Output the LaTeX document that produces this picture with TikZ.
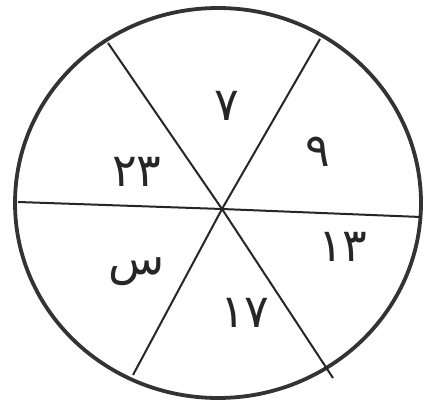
\documentclass[tikz,border=0pt]{standalone}
\usepackage{fontspec}
\newfontfamily\arabicfont[Script=Arabic]{DejaVu Sans}
\TeXXeTstate=1
\begin{document}
\begin{tikzpicture}[x=1pt,y=-1pt,
  rim/.style={line width=3.8pt,draw=black!80},
  spoke/.style={line width=2pt,draw=black!85},
  lbl/.style={font=\arabicfont\fontsize{46}{46}\selectfont,text=black!85,inner sep=0pt}]
\useasboundingbox (0,0) rectangle (426,404);
\fill[white] (0,0) rectangle (426,404);
\draw[rim] (218,203) ellipse [x radius=203, y radius=195];
\coordinate (c) at (222,209);
\coordinate (h1) at (18,202);
\coordinate (h2) at (421,217);
\coordinate (a1) at (108,43);
\coordinate (a2) at (333,378);
\coordinate (b1) at (320,39);
\coordinate (b2) at (133,375);
\draw[spoke] (h1) -- (c) -- (h2);
\draw[spoke] (a1) -- (c) -- (a2);
\draw[spoke] (b1) -- (c) -- (b2);
\node[lbl] (n7) at (227,106) {۷};
\node[lbl] (n9) at (318,152) {۹};
\node[lbl] (n13) at (343,247) {۱۳};
\node[lbl] (n17) at (245,313) {۱۷};
\node[lbl] (nx) at (137,272) {\beginR س\endR};
\node[lbl] (n23) at (137,172) {۲۳};
\end{tikzpicture}
\end{document}
